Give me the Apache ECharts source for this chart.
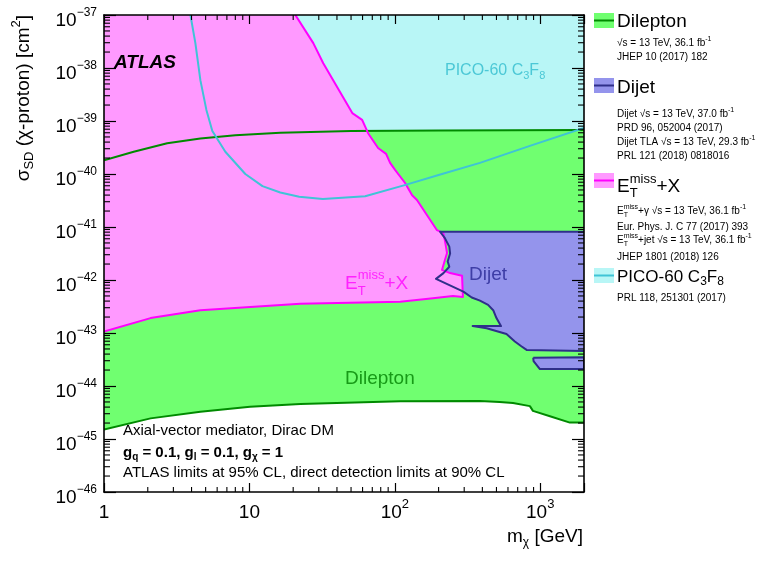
<!DOCTYPE html>
<html>
<head>
<meta charset="utf-8">
<script src="https://cdn.jsdelivr.net/npm/echarts@6/dist/echarts.min.js"></script>
<style>html,body{margin:0;padding:0;background:#fff}#c{width:771px;height:562px}</style>
</head>
<body>
<div id="c"></div>
<script>
// ---------------- data (m_chi in GeV, sigma_SD in cm^2) ----------------
const xTickValues = [1, 10, 100, 1000];
const yTickExponents = [-46, -45, -44, -43, -42, -41, -40, -39, -38, -37];
const X_MIN = 1, X_MAX = 2000;
const Y_MIN_EXP = -46, Y_MAX_EXP = -37;
const SIGMA_TOP = 1e-37;

const dileptonUpper = [[1,1.82e-40],[1.6,2.63e-40],[2.72,3.80e-40],[4.6,4.68e-40],[8,5.37e-40],[16.3,6.03e-40],[50,6.46e-40],[200,6.61e-40],[2000,6.76e-40]];
const dileptonLower = [[1,1.51e-45],[2.09,2.45e-45],[4.6,3.27e-45],[10.1,4.07e-45],[22.4,4.57e-45],[109,5.13e-45],[385,5.2e-45],[526,5.0e-45],[650,4.79e-45],[849,4.17e-45],[891,3.39e-45],[1196,2.63e-45],[1600,2.04e-45],[2000,2.04e-45]];

const etmissBoundary = [[20.7,1e-37],[27.5,2.95e-38],[32.2,1.23e-38],[51,1.41e-39],[59.6,1.05e-39],[65.5,5.89e-40],[76.7,3.09e-40],[87.1,2.40e-40],[92.8,1.62e-40],[100.4,1.20e-40],[117.7,6.76e-41],[131.5,3.98e-41],[142,3.24e-41],[195,8.71e-42],[215,7.76e-42],[221,5.62e-42],[228.6,3.24e-42],[211,1.55e-42],[240,1.35e-42],[290,1.20e-42],[294,4.79e-43],[251,5.01e-43],[183,4.52e-43],[109,3.89e-43],[22.4,3.55e-43],[4.6,2.69e-43],[2.09,1.91e-43],[1,1.06e-43]];

const dijetMain = [[2000,8.13e-42],[204.7,8.13e-42],[221,6.17e-42],[237,4.27e-42],[240,3.16e-42],[231,2.24e-42],[237,1.78e-42],[216,1.35e-42],[192,1.05e-42],[296,6.03e-43],[338,4.68e-43],[385,4.07e-43],[438,3.39e-43],[475,2.69e-43],[500,1.91e-43],[537,1.35e-43],[343,1.35e-43],[428,1.23e-43],[586,9.55e-44],[669,6.92e-44],[741,5.62e-44],[806,4.79e-44],[2000,4.57e-44]];
const dijetStrip = [[895,3.42e-44],[2000,3.47e-44],[2000,2.09e-44],[995,2.09e-44],[900,2.95e-44]];

const pico = [[3.93,1e-37],[4.25,2.95e-38],[4.6,5.9e-39],[5.06,1.62e-39],[5.56,6.46e-40],[6.83,2.63e-40],[9.37,1.0e-40],[12.3,5.9e-41],[16.3,4.47e-41],[22,3.72e-41],[32,3.39e-41],[62.5,3.8e-41],[117,6.17e-41],[200,9.55e-41],[385,1.62e-40],[849,3.39e-40],[2000,7.41e-40]];

// ---------------- styling ----------------
const FONT = '"Liberation Sans", Arial, Helvetica, sans-serif';
const C = {
  picoFill:'#b8f6f6', picoLine:'#3fc4d6', picoText:'#4cc8d6',
  dilFill:'#70ff70', dilLine:'#008a00', dilText:'#179a17',
  dijFill:'#9494ec', dijLine:'#2f2f8a', dijText:'#3e3ea6',
  etFill:'#ff99ff', etLine:'#ff00ff', etText:'#ff22ff'
};

const mctx = document.createElement('canvas').getContext('2d');
function fontStr(size, weight, fstyle){ return (fstyle||'normal')+' '+(weight||'normal')+' '+size+'px '+FONT; }
function measure(t, size, weight, fstyle){ mctx.font = fontStr(size, weight, fstyle); return mctx.measureText(t).width; }

function richLine(parts, o){
  const size=o.size, weight=o.weight, fstyle=o.fstyle, color=o.color||'#000';
  const ss = o.scriptSize || Math.round(size*0.66);
  const supDy = o.supDy!=null ? o.supDy : -size*0.4;
  const subDy = o.subDy!=null ? o.subDy : size*0.3;
  const children=[]; let cx=0;
  const add=(t,dy,sz)=>{
    children.push({type:'text', x:cx, y:dy, z:100, silent:true,
      style:{text:t, font:fontStr(sz,weight,fstyle), fill:color, align:'left', verticalAlign:'middle', textAlign:'left', textVerticalAlign:'middle'}});
    return measure(t,sz,weight,fstyle);
  };
  parts.forEach(p=>{
    if(typeof p==='string'){ cx+=add(p,0,size); return; }
    let w=0;
    if(p.sup) w=Math.max(w,add(p.sup,supDy,ss));
    if(p.sub) w=Math.max(w,add(p.sub,subDy,ss));
    cx+=w;
  });
  return {children, width:cx};
}
function place(x, y, parts, o, anchor, rotation){
  const r = richLine(parts, o);
  if(rotation){ return {type:'group', x:x, y:y + r.width, rotation:rotation, children:r.children}; }
  return {type:'group', x: anchor==='right' ? x-r.width : x, y:y, children:r.children};
}

// ---------------- drawing helpers via the axes ----------------
function P(api, arr){ return arr.map(p=>api.coord([p[0], Math.log10(p[1])])); }
function layer(name, build, z){
  return {type:'custom', name:name, coordinateSystem:'cartesian2d', clip:true, silent:true, z:z||2,
    data:[[X_MIN, Y_MIN_EXP]], renderItem:(params, api)=>({type:'group', children:build(api)})};
}
function poly(points, fill){ return {type:'polygon', shape:{points}, style:{fill, stroke:null}}; }
function pline(points, stroke, w){ return {type:'polyline', shape:{points}, style:{fill:null, stroke, lineWidth:w||2, lineJoin:'round'}}; }

const series = [
  layer('PICO-60 fill', api=>[poly(P(api, pico.concat([[X_MAX,SIGMA_TOP],[pico[0][0],SIGMA_TOP]])), C.picoFill)]),
  layer('Dilepton fill', api=>[poly(P(api, dileptonUpper.concat(dileptonLower.slice().reverse())), C.dilFill)]),
  layer('Dijet fill', api=>[poly(P(api, dijetMain), C.dijFill), poly(P(api, dijetStrip), C.dijFill)]),
  layer('Etmiss fill', api=>[poly(P(api, [[X_MIN,SIGMA_TOP]].concat(etmissBoundary)), C.etFill)]),
  layer('Dilepton line', api=>[pline(P(api, dileptonUpper), C.dilLine, 2), pline(P(api, dileptonLower), C.dilLine, 2)]),
  layer('Etmiss line', api=>[pline(P(api, etmissBoundary), C.etLine, 2)]),
  layer('Dijet line', api=>[pline(P(api, dijetMain), C.dijLine, 2), pline(P(api, dijetStrip.concat([dijetStrip[0]])), C.dijLine, 2)]),
  layer('PICO-60 line', api=>[pline(P(api, pico), C.picoLine, 2)]),
  {type:'custom', name:'minor ticks', coordinateSystem:'cartesian2d', silent:true, z:20, data:[[X_MIN,Y_MIN_EXP]],
   renderItem:(params, api)=>{
     const ch=[]; const st={stroke:'#000', lineWidth:1.1};
     const b=api.coord([X_MIN,Y_MIN_EXP]), t=api.coord([X_MAX,Y_MAX_EXP]);
     const yb=b[1], yt=t[1], xl=b[0], xr=t[0];
     for(let e=0;e<4;e++) for(let k=2;k<=9;k++){
       const m=k*Math.pow(10,e); if(m>=X_MAX) break;
       const x=api.coord([m,Y_MIN_EXP])[0];
       ch.push({type:'line', shape:{x1:x,y1:yb,x2:x,y2:yb-5}, style:st});
       ch.push({type:'line', shape:{x1:x,y1:yt,x2:x,y2:yt+5}, style:st});
     }
     for(let e=Y_MIN_EXP;e<Y_MAX_EXP;e++) for(let k=2;k<=9;k++){
       const y=api.coord([X_MIN, e+Math.log10(k)])[1];
       ch.push({type:'line', shape:{x1:xl,y1:y,x2:xl+6,y2:y}, style:st});
       ch.push({type:'line', shape:{x1:xr,y1:y,x2:xr-6,y2:y}, style:st});
     }
     return {type:'group', children:ch};
   }}
];

const MINUS='\u2212';
const xRich = { b:{fontSize:19, fontFamily:FONT, color:'#000', lineHeight:24, verticalAlign:'bottom'},
                s:{fontSize:13, fontFamily:FONT, color:'#000', lineHeight:15, verticalAlign:'top'} };
const yRich = { b:{fontSize:19, fontFamily:FONT, color:'#000', lineHeight:24, verticalAlign:'bottom'},
                s:{fontSize:12, fontFamily:FONT, color:'#000', lineHeight:11, verticalAlign:'top'} };
function xLabel(v){
  const l=Math.log10(v), e=Math.round(l);
  if(Math.abs(l-e)>1e-6 || xTickValues.indexOf(Math.pow(10,e))<0) return '';
  if(e===0) return '{b|1}';
  if(e===1) return '{b|10}';
  return '{b|10}{s|'+e+'}';
}
function yLabel(v){
  const e=Math.round(v);
  if(yTickExponents.indexOf(e)<0) return '';
  return '{b|10}{s|'+(e<0?MINUS:'')+Math.abs(e)+'}';
}
const axisLine={show:true, onZero:false, lineStyle:{color:'#000', width:1.6}};
const xAxes=[
  {type:'log', logBase:10, min:X_MIN, max:X_MAX, position:'bottom', z:30, axisLine,
   axisTick:{show:true, inside:true, length:9, lineStyle:{color:'#000', width:1.2}},
   splitLine:{show:false}, axisLabel:{show:true, margin:6, formatter:xLabel, rich:xRich}},
  {type:'log', logBase:10, min:X_MIN, max:X_MAX, position:'top', z:30, axisLine,
   axisTick:{show:true, inside:true, length:9, lineStyle:{color:'#000', width:1.2}},
   splitLine:{show:false}, axisLabel:{show:false}}
];
const yAxes=[
  {type:'value', min:Y_MIN_EXP, max:Y_MAX_EXP, interval:1, position:'left', z:30, axisLine,
   axisTick:{show:true, inside:true, length:12, lineStyle:{color:'#000', width:1.2}},
   splitLine:{show:false}, axisLabel:{show:true, margin:7, padding:[7,0,0,0], formatter:yLabel, rich:yRich}},
  {type:'value', min:Y_MIN_EXP, max:Y_MAX_EXP, interval:1, position:'right', z:30, axisLine,
   axisTick:{show:true, inside:true, length:12, lineStyle:{color:'#000', width:1.2}},
   splitLine:{show:false}, axisLabel:{show:false}}
];

// ---------------- annotations and legend ----------------
const T19={size:19}, S10={size:10, scriptSize:7};
const graphics=[];
// axis titles
graphics.push(place(24, 15, ['\u03C3', {sub:'SD'}, ' (\u03C7-proton) [cm', {sup:'2'}, ']'], {size:19, scriptSize:13}, null, Math.PI/2));
graphics.push(place(583, 537, ['m', {sub:'\u03C7'}, ' [GeV]'], {size:19, scriptSize:12}, 'right'));
// in-plot labels
graphics.push(place(114, 63, ['ATLAS'], {size:19, weight:'bold', fstyle:'italic'}));
graphics.push(place(445, 71, ['PICO-60 C', {sub:'3'}, 'F', {sub:'8'}], {size:16, color:C.picoText, scriptSize:11}));
graphics.push(place(345, 284, ['E', {sup:'miss', sub:'T'}, '+X'], {size:19, color:C.etText, scriptSize:13, supDy:-9, subDy:7}));
graphics.push(place(469, 275, ['Dijet'], {size:19, color:C.dijText}));
graphics.push(place(345, 379, ['Dilepton'], {size:19, color:C.dilText}));
graphics.push(place(123, 431, ['Axial-vector mediator, Dirac DM'], {size:15}));
graphics.push(place(123, 453, ['g', {sub:'q'}, ' = 0.1, g', {sub:'l'}, ' = 0.1, g', {sub:'\u03C7'}, ' = 1'], {size:15, weight:'bold', scriptSize:10}));
graphics.push(place(123, 473, ['ATLAS limits at 95% CL, direct detection limits at 90% CL'], {size:15}));

// legend
function legendBox(y, fill, stroke){
  graphics.push({type:'rect', z:100, silent:true, shape:{x:594, y:y, width:20, height:15}, style:{fill, stroke:null}});
  graphics.push({type:'line', z:101, silent:true, shape:{x1:594, y1:y+7.5, x2:614, y2:y+7.5}, style:{stroke, lineWidth:2}});
}
const fbInv=['fb', {sup:'-1'}];
legendBox(13, C.dilFill, C.dilLine);
graphics.push(place(617, 22, ['Dilepton'], T19));
graphics.push(place(617, 43, ['\u221As = 13 TeV, 36.1 '].concat(fbInv), S10));
graphics.push(place(617, 57, ['JHEP 10 (2017) 182'], S10));
legendBox(78, C.dijFill, C.dijLine);
graphics.push(place(617, 88, ['Dijet'], T19));
graphics.push(place(617, 114, ['Dijet \u221As = 13 TeV, 37.0 '].concat(fbInv), S10));
graphics.push(place(617, 128, ['PRD 96, 052004 (2017)'], S10));
graphics.push(place(617, 142, ['Dijet TLA \u221As = 13 TeV, 29.3 '].concat(fbInv), S10));
graphics.push(place(617, 156, ['PRL 121 (2018) 0818016'], S10));
legendBox(173, C.etFill, C.etLine);
graphics.push(place(617, 187, ['E', {sup:'miss', sub:'T'}, '+X'], {size:19, scriptSize:13, supDy:-8, subDy:6}));
graphics.push(place(617, 211, ['E', {sup:'miss', sub:'T'}, '+\u03B3 \u221As = 13 TeV, 36.1 '].concat(fbInv), {size:10, scriptSize:7, supDy:-4, subDy:4}));
graphics.push(place(617, 227, ['Eur. Phys. J. C 77 (2017) 393'], S10));
graphics.push(place(617, 240, ['E', {sup:'miss', sub:'T'}, '+jet \u221As = 13 TeV, 36.1 '].concat(fbInv), {size:10, scriptSize:7, supDy:-4, subDy:4}));
graphics.push(place(617, 257, ['JHEP 1801 (2018) 126'], S10));
legendBox(268, C.picoFill, C.picoLine);
graphics.push(place(617, 277, ['PICO-60 C', {sub:'3'}, 'F', {sub:'8'}], {size:17, scriptSize:12}));
graphics.push(place(617, 298, ['PRL 118, 251301 (2017)'], S10));

const chart = echarts.init(document.getElementById('c'), null, {renderer:'canvas'});
chart.setOption({
  animation:false,
  backgroundColor:'#fff',
  textStyle:{fontFamily:FONT},
  grid:{left:104, right:187, top:15, bottom:70, containLabel:false},
  xAxis:xAxes,
  yAxis:yAxes,
  series:series,
  graphic:{elements:graphics}
});
</script>
</body>
</html>
